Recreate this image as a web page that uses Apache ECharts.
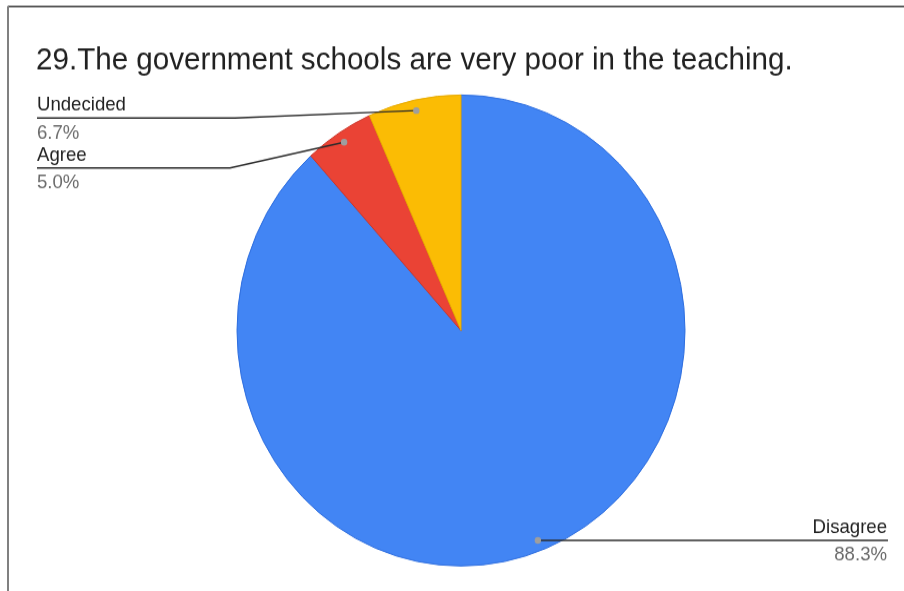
<!DOCTYPE html>
<html>
<head>
<meta charset="utf-8">
<script src="https://cdn.jsdelivr.net/npm/echarts@6/dist/echarts.min.js"></script>
<style>
  html, body { margin: 0; padding: 0; background: #fff; width: 904px; height: 591px; }
  #chart { width: 904px; transform-origin: 0 0; }
</style>
</head>
<body>
<div id="chart"></div>
<script>
// Survey item 29: share of responses per answer
const titleText = '29.The government schools are very poor in the teaching.';
const categories = ['Disagree', 'Agree', 'Undecided'];
const shares = [88.3, 5.0, 6.7];

const sliceColors = ['#4285F4', '#EA4335', '#FBBC04'];
const edgeColors = ['#2f6fe0', '#cf3427', '#e8aa00'];
const FONT = '"Liberation Sans", Arial, sans-serif';

// The exported chart is slightly taller than wide, so the canvas is drawn
// shorter and stretched vertically; page positions are divided by this factor.
const STRETCH = 1.0513;
const PAGE_H = 591;
const sy = v => v / STRETCH;

// Where each callout sits: left-column labels use a fixed line height with a kink,
// the right label runs straight from its dot.
const labelSlots = {
  Undecided: { side: 'left', lineY: sy(118), kinkX: 235 },
  Agree: { side: 'left', lineY: sy(168), kinkX: 230 },
  Disagree: { side: 'right' }
};
const LEFT_X = 37;
const RIGHT_X = 888;
const DOT_RATIO = 0.955;
const TEXT_NUDGE = 1;

const el = document.getElementById('chart');
el.style.height = sy(PAGE_H) + 'px';
el.style.transform = 'scaleY(' + STRETCH + ')';
const chart = echarts.init(el, null, { renderer: 'canvas' });

function dotPoint(idx) {
  const layout = chart.getModel().getSeriesByIndex(0).getData().getItemLayout(idx);
  const mid = (layout.startAngle + layout.endAngle) / 2;
  const rr = layout.r * DOT_RATIO;
  return [layout.cx + rr * Math.cos(mid), layout.cy + rr * Math.sin(mid)];
}

// Callout path for one slice: dot -> (kink) -> end of the underline
function calloutPoints(idx) {
  const slot = labelSlots[categories[idx]];
  const dot = dotPoint(idx);
  if (slot.side === 'left') {
    return [dot, [slot.kinkX, slot.lineY], [LEFT_X, slot.lineY]];
  }
  return [dot, [RIGHT_X, dot[1]]];
}

const option = {
  backgroundColor: '#ffffff',
  animation: false,
  title: {
    text: titleText,
    left: LEFT_X - 1,
    top: sy(45),
    padding: 0,
    textStyle: { fontFamily: FONT, fontSize: 29.6, fontWeight: 'normal', color: '#212121' }
  },
  series: [{
    type: 'pie',
    center: [461, sy(330.5)],
    radius: 224,
    startAngle: 90,
    clockwise: true,
    avoidLabelOverlap: false,
    data: categories.map((name, i) => ({
      name: name,
      value: shares[i],
      itemStyle: { color: sliceColors[i], borderColor: edgeColors[i], borderWidth: 1 }
    })),
    label: {
      show: true,
      position: 'outside',
      formatter: p => `{n|${p.name}}\n{p|${p.value.toFixed(1)}%}`,
      rich: {
        n: { fontFamily: FONT, fontSize: 18.6, color: '#222222', lineHeight: 26.5 },
        p: { fontFamily: FONT, fontSize: 18.6, color: '#6b6b6b', lineHeight: 26.5 }
      }
    },
    labelLine: { show: false },
    labelLayout: function (params) {
      const slot = labelSlots[categories[params.dataIndex]];
      if (slot.side === 'left') {
        return { x: LEFT_X, y: slot.lineY + TEXT_NUDGE, align: 'left', verticalAlign: 'middle' };
      }
      const dot = dotPoint(params.dataIndex);
      return { x: RIGHT_X - 1, y: dot[1] + TEXT_NUDGE, align: 'right', verticalAlign: 'middle' };
    },
    emphasis: { disabled: true }
  }]
};

chart.setOption(option);

// Frame edges, callout lines drawn over the slices, and the dots that anchor them
const extras = [
  { type: 'line', shape: { x1: 8, y1: sy(6.5), x2: 904, y2: sy(6.5) }, style: { stroke: '#333333', lineWidth: 1.5 }, z: 100 },
  { type: 'line', shape: { x1: 8, y1: sy(6), x2: 8, y2: sy(PAGE_H) }, style: { stroke: '#808080', lineWidth: 2 }, z: 100 }
];
categories.forEach((name, i) => {
  extras.push({
    type: 'polyline',
    shape: { points: calloutPoints(i) },
    style: { stroke: '#2b2b2b', lineWidth: 1.4, fill: null },
    z: 100
  });
});
categories.forEach((name, i) => {
  const d = dotPoint(i);
  extras.push({ type: 'circle', shape: { cx: d[0], cy: d[1], r: 3.2 }, style: { fill: '#9e9e9e' }, z: 101 });
});
chart.setOption({ graphic: extras });
</script>
</body>
</html>
